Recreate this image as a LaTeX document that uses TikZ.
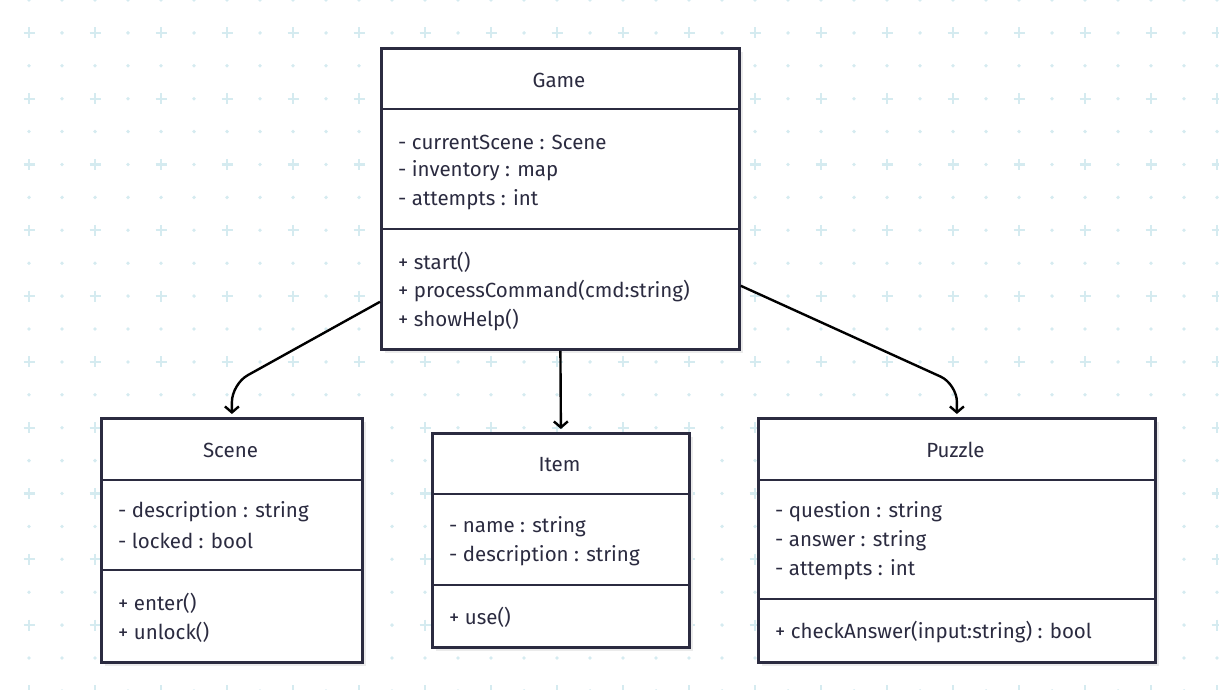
\documentclass[tikz,border=0pt]{standalone}
\usepackage{fontspec}
\setmainfont{Fira Sans}
\usetikzlibrary{arrows.meta,shadows}
\definecolor{ink}{HTML}{2B2B40}
\definecolor{dotc}{HTML}{D5EBF0}
\definecolor{shade}{HTML}{EBEBEB}
\tikzset{
  classbox/.style={draw=ink, line width=2.8pt, fill=white, rectangle, anchor=north west,
    inner sep=0pt, drop shadow={shadow xshift=4pt, shadow yshift=-4pt, fill=shade, opacity=1}},
  sepline/.style={draw=ink, line width=2.6pt},
  title/.style={text=ink, font=\fontsize{20.5}{22}\selectfont, inner sep=0pt},
  member/.style={text=ink, font=\fontsize{20.5}{22}\selectfont, anchor=west, inner sep=0pt},
  assoc/.style={draw=black, line width=2.4pt, rounded corners=18pt,
    -{Straight Barb[length=6pt,width=14pt,line width=2.4pt]}},
}
\begin{document}
\begin{tikzpicture}[x=1pt,y=-1pt]
\useasboundingbox (0,0) rectangle (1219,690);
% background pattern
\foreach \k in {0,...,36}{
  \foreach \m in {0,...,21}{
    \pgfmathsetmacro{\px}{29+33*\k}
    \pgfmathsetmacro{\py}{32.9*\m}
    \pgfmathtruncatemacro{\isplus}{(mod(\k,2)==0)&&(mod(\m,2)==1)}
    \ifnum\isplus=1
      \draw[dotc, line width=2.2pt] (\px-5.5,\py) -- (\px+5.5,\py) (\px,\py-5.5) -- (\px,\py+5.5);
    \else
      \fill[dotc] (\px,\py) circle (1.9);
    \fi
  }
}
% Game
\node[classbox, minimum width=358pt, minimum height=301pt] (game) at (380,47) {};
\draw[sepline] ([yshift=-62pt]game.north west) -- ([yshift=-62pt]game.north east);
\draw[sepline] ([yshift=-182pt]game.north west) -- ([yshift=-182pt]game.north east);
\node[title] (gameT) at (559,80) {Game};
\node[member] (g1) at (398,142) {- currentScene : Scene};
\node[member] (g2) at (398,171) {- inventory : map};
\node[member] (g3) at (398,200) {- attempts : int};
\node[member] (g4) at (398,262) {+ start()};
\node[member] (g5) at (398,291) {+ processCommand(cmd:string)};
\node[member] (g6) at (398,320) {+ showHelp()};
% Scene
\node[classbox, minimum width=261pt, minimum height=244pt] (scene) at (100,417) {};
\draw[sepline] ([yshift=-63pt]scene.north west) -- ([yshift=-63pt]scene.north east);
\draw[sepline] ([yshift=-153pt]scene.north west) -- ([yshift=-153pt]scene.north east);
\node[title] (sceneT) at (230.5,450) {Scene};
\node[member] (s1) at (118,512) {- description : string};
\node[member] (s2) at (118,541) {- locked : bool};
\node[member] (s3) at (118,603) {+ enter()};
\node[member] (s4) at (118,632) {+ unlock()};
% Item
\node[classbox, minimum width=257pt, minimum height=214pt] (item) at (431,432) {};
\draw[sepline] ([yshift=-62pt]item.north west) -- ([yshift=-62pt]item.north east);
\draw[sepline] ([yshift=-153pt]item.north west) -- ([yshift=-153pt]item.north east);
\node[title] (itemT) at (559.5,465) {Item};
\node[member] (i1) at (449,527) {- name : string};
\node[member] (i2) at (449,556) {- description : string};
\node[member] (i3) at (449,617) {+ use()};
% Puzzle
\node[classbox, minimum width=397pt, minimum height=244pt] (puzzle) at (757,417) {};
\draw[sepline] ([yshift=-63pt]puzzle.north west) -- ([yshift=-63pt]puzzle.north east);
\draw[sepline] ([yshift=-182pt]puzzle.north west) -- ([yshift=-182pt]puzzle.north east);
\node[title] (puzzleT) at (955.5,450) {Puzzle};
\node[member] (p1) at (775,512) {- question : string};
\node[member] (p2) at (775,541) {- answer : string};
\node[member] (p3) at (775,570) {- attempts : int};
\node[member] (p4) at (775,632) {+ checkAnswer(input:string) : bool};
% connectors
\draw[assoc] ([yshift=49pt]game.south west) -- (scene.north |- 0,384) -- ([yshift=3pt]scene.north);
\draw[assoc] (game.south) -- ([yshift=3pt]item.north);
\draw[assoc] ([yshift=65pt]game.south east) -- (puzzle.north |- 0,384) -- ([yshift=3pt]puzzle.north);
\end{tikzpicture}
\end{document}
